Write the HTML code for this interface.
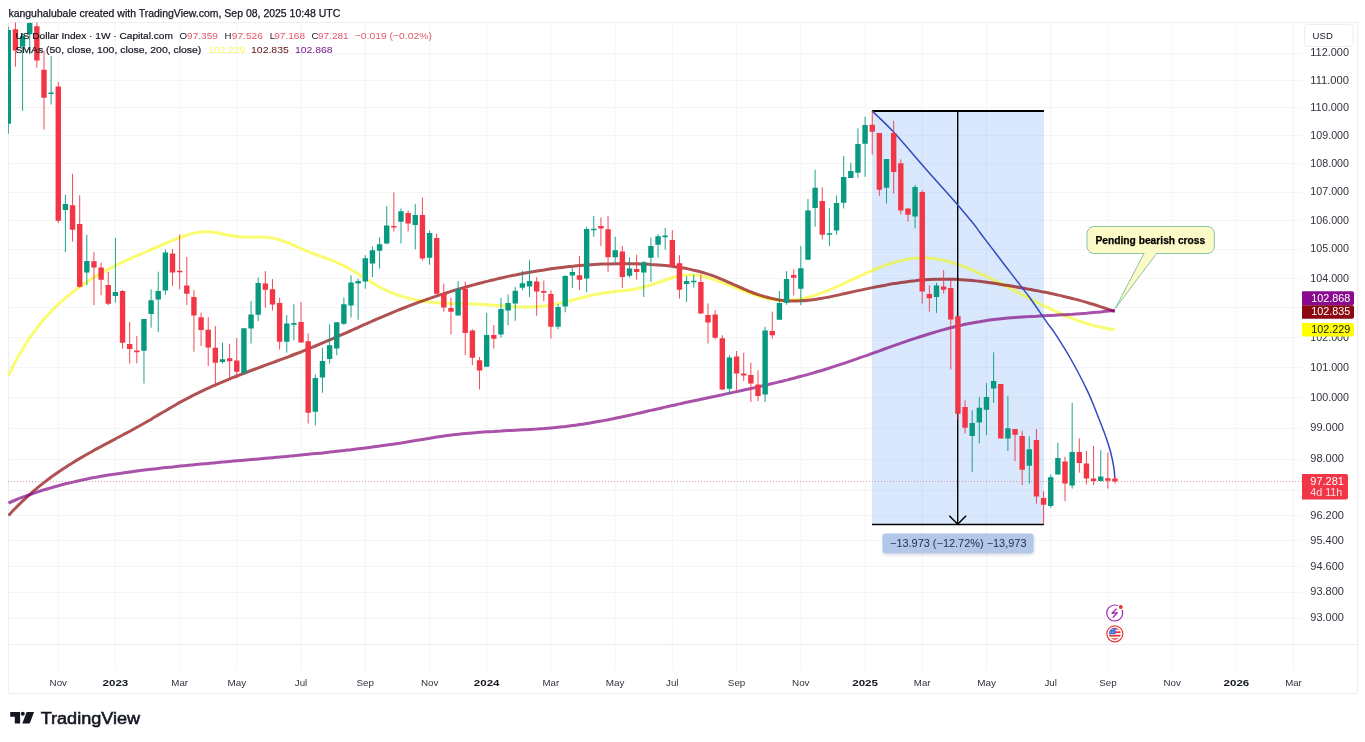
<!DOCTYPE html>
<html><head><meta charset="utf-8"><title>US Dollar Index chart</title>
<style>html,body{margin:0;padding:0;background:#fff}svg{display:block}</style></head>
<body>
<svg width="1365" height="742" viewBox="0 0 1365 742" font-family="'Liberation Sans', sans-serif">
<rect width="1365" height="742" fill="#fff"/>
<defs><clipPath id="pane"><rect x="8" y="22" width="1294" height="671"/></clipPath></defs>
<path d="M8 53.5H1302M8 80.5H1302M8 107.5H1302M8 135.5H1302M8 163.5H1302M8 192.5H1302M8 220.5H1302M8 249.5H1302M8 278.5H1302M8 307.5H1302M8 337.5H1302M8 367.5H1302M8 397.5H1302M8 428.5H1302M8 459.5H1302M8 490.5H1302M8 515.5H1302M8 540.5H1302M8 566.5H1302M8 592.5H1302M8 618.5H1302M8 644.5H1302M58.3 22V670M115.4 22V670M179.7 22V670M236.8 22V670M301.0 22V670M365.3 22V670M429.6 22V670M486.7 22V670M550.9 22V670M615.2 22V670M672.3 22V670M736.6 22V670M800.8 22V670M865.1 22V670M922.2 22V670M986.5 22V670M1050.7 22V670M1107.9 22V670M1172.1 22V670M1236.4 22V670M1293.5 22V670" stroke="#f4f5f7" stroke-width="1" fill="none"/>
<path d="M8.5 22.5H1357.5V693.5H8.5ZM8 644.5H1357" stroke="#eceef1" stroke-width="1" fill="none"/>
<rect x="872" y="111" width="172" height="413.5" fill="#418cf0" fill-opacity="0.2"/>
<g clip-path="url(#pane)" fill="none" stroke-width="3" stroke-linejoin="round" stroke-linecap="butt" stroke-opacity="0.68">
<path d="M8.5 375.5C9.7 373.2 13.3 365.8 15.6 361.4C18.0 356.9 20.4 352.8 22.8 348.8C25.2 344.9 27.5 341.2 29.9 337.7C32.3 334.2 34.7 330.9 37.1 327.9C39.4 324.8 41.8 321.9 44.2 319.1C46.6 316.3 49.0 313.8 51.3 311.3C53.7 308.8 56.1 306.5 58.5 304.3C60.9 302.1 63.2 299.9 65.6 297.9C68.0 295.9 70.4 293.9 72.8 292.1C75.1 290.2 77.5 288.4 79.9 286.7C82.3 285.0 84.7 283.4 87.0 281.8C89.4 280.2 91.8 278.7 94.2 277.3C96.6 275.8 98.9 274.4 101.3 273.1C103.7 271.8 106.1 270.5 108.5 269.2C110.8 268.0 113.2 266.8 115.6 265.6C118.0 264.4 120.4 263.3 122.7 262.2C125.1 261.0 127.5 259.9 129.9 258.9C132.3 257.8 134.6 256.7 137.0 255.7C139.4 254.6 141.8 253.6 144.2 252.6C146.5 251.6 148.9 250.5 151.3 249.5C153.7 248.5 156.1 247.5 158.4 246.5C160.8 245.5 163.2 244.4 165.6 243.4C168.0 242.4 170.3 241.3 172.7 240.4C175.1 239.4 177.5 238.4 179.9 237.5C182.2 236.6 184.6 235.8 187.0 235.0C189.4 234.3 191.8 233.6 194.1 233.1C196.5 232.6 198.9 232.2 201.3 232.0C203.7 231.8 206.0 231.7 208.4 231.8C210.8 231.9 213.2 232.3 215.6 232.6C217.9 233.0 220.3 233.5 222.7 234.0C225.1 234.5 227.5 235.0 229.8 235.5C232.2 235.9 234.6 236.4 237.0 236.6C239.4 236.9 241.7 237.1 244.1 237.1C246.5 237.2 248.9 237.2 251.3 237.2C253.6 237.2 256.0 237.1 258.4 237.1C260.8 237.1 263.2 237.2 265.5 237.3C267.9 237.5 270.3 237.7 272.7 238.1C275.1 238.6 277.4 239.2 279.8 239.9C282.2 240.6 284.6 241.5 287.0 242.4C289.3 243.3 291.7 244.3 294.1 245.4C296.5 246.4 298.9 247.5 301.2 248.6C303.6 249.6 306.0 250.7 308.4 251.7C310.8 252.7 313.1 253.6 315.5 254.5C317.9 255.4 320.3 256.3 322.7 257.1C325.0 258.0 327.4 258.8 329.8 259.7C332.2 260.6 334.6 261.5 336.9 262.6C339.3 263.6 341.7 264.7 344.1 265.9C346.5 267.1 348.8 268.4 351.2 269.8C353.6 271.2 356.0 272.7 358.4 274.1C360.7 275.6 363.1 277.1 365.5 278.6C367.9 280.1 370.3 281.6 372.6 283.0C375.0 284.4 377.4 285.8 379.8 287.1C382.2 288.3 384.5 289.5 386.9 290.6C389.3 291.7 391.7 292.7 394.1 293.6C396.4 294.6 398.8 295.4 401.2 296.2C403.6 297.0 406.0 297.7 408.3 298.3C410.7 298.9 413.1 299.4 415.5 299.9C417.9 300.4 420.2 300.8 422.6 301.2C425.0 301.5 427.4 301.8 429.8 302.1C432.1 302.3 434.5 302.5 436.9 302.7C439.3 302.9 441.7 303.0 444.0 303.1C446.4 303.2 448.8 303.3 451.2 303.4C453.6 303.4 455.9 303.5 458.3 303.6C460.7 303.6 463.1 303.7 465.5 303.7C467.8 303.8 470.2 303.9 472.6 303.9C475.0 304.0 477.4 304.1 479.7 304.3C482.1 304.4 484.5 304.6 486.9 304.7C489.3 304.9 491.6 305.1 494.0 305.3C496.4 305.4 498.8 305.6 501.2 305.8C503.5 306.0 505.9 306.2 508.3 306.3C510.7 306.5 513.1 306.6 515.4 306.7C517.8 306.8 520.2 306.9 522.6 306.9C525.0 307.0 527.3 307.0 529.7 306.9C532.1 306.9 534.5 306.8 536.9 306.6C539.2 306.5 541.6 306.3 544.0 306.0C546.4 305.7 548.8 305.3 551.1 304.9C553.5 304.5 555.9 304.1 558.3 303.6C560.7 303.1 563.0 302.5 565.4 301.9C567.8 301.4 570.2 300.7 572.6 300.1C574.9 299.5 577.3 298.9 579.7 298.3C582.1 297.7 584.5 297.1 586.8 296.5C589.2 295.9 591.6 295.3 594.0 294.8C596.4 294.3 598.7 293.8 601.1 293.4C603.5 293.0 605.9 292.7 608.3 292.3C610.6 292.0 613.0 291.8 615.4 291.5C617.8 291.3 620.2 291.1 622.5 290.8C624.9 290.5 627.3 290.3 629.7 289.9C632.1 289.6 634.4 289.2 636.8 288.7C639.2 288.2 641.6 287.7 644.0 287.0C646.3 286.4 648.7 285.7 651.1 284.9C653.5 284.1 655.9 283.3 658.2 282.5C660.6 281.7 663.0 280.8 665.4 280.0C667.8 279.2 670.1 278.4 672.5 277.7C674.9 277.0 677.3 276.4 679.7 275.9C682.0 275.5 684.4 275.1 686.8 275.0C689.2 274.8 691.6 274.9 693.9 275.1C696.3 275.2 698.7 275.6 701.1 276.1C703.5 276.5 705.8 277.1 708.2 277.8C710.6 278.5 713.0 279.3 715.4 280.1C717.7 280.9 720.1 281.7 722.5 282.6C724.9 283.5 727.3 284.5 729.6 285.4C732.0 286.3 734.4 287.3 736.8 288.2C739.2 289.2 741.5 290.1 743.9 291.0C746.3 291.9 748.7 292.8 751.1 293.7C753.4 294.5 755.8 295.3 758.2 296.1C760.6 296.8 763.0 297.5 765.3 298.1C767.7 298.6 770.1 299.2 772.5 299.6C774.9 300.0 777.2 300.3 779.6 300.4C782.0 300.6 784.4 300.6 786.8 300.6C789.1 300.5 791.5 300.3 793.9 300.1C796.3 299.8 798.7 299.4 801.0 298.9C803.4 298.5 805.8 297.9 808.2 297.3C810.6 296.6 812.9 295.9 815.3 295.1C817.7 294.4 820.1 293.5 822.5 292.6C824.8 291.7 827.2 290.8 829.6 289.8C832.0 288.8 834.4 287.8 836.7 286.7C839.1 285.7 841.5 284.6 843.9 283.5C846.3 282.4 848.6 281.3 851.0 280.2C853.4 279.1 855.8 278.0 858.2 276.9C860.5 275.8 862.9 274.7 865.3 273.6C867.7 272.5 870.1 271.5 872.4 270.5C874.8 269.5 877.2 268.5 879.6 267.5C882.0 266.6 884.3 265.7 886.7 264.9C889.1 264.0 891.5 263.2 893.9 262.5C896.2 261.8 898.6 261.2 901.0 260.6C903.4 260.1 905.8 259.6 908.1 259.2C910.5 258.8 912.9 258.5 915.3 258.3C917.7 258.1 920.0 258.0 922.4 258.0C924.8 258.0 927.2 258.1 929.6 258.3C931.9 258.5 934.3 258.8 936.7 259.1C939.1 259.5 941.5 259.9 943.8 260.5C946.2 261.0 948.6 261.6 951.0 262.3C953.4 263.0 955.7 263.7 958.1 264.6C960.5 265.4 962.9 266.3 965.3 267.2C967.6 268.1 970.0 269.1 972.4 270.1C974.8 271.1 977.2 272.2 979.5 273.3C981.9 274.4 984.3 275.5 986.7 276.6C989.1 277.8 991.4 278.9 993.8 280.1C996.2 281.3 998.6 282.5 1001.0 283.7C1003.3 284.9 1005.7 286.1 1008.1 287.3C1010.5 288.6 1012.9 289.8 1015.2 291.1C1017.6 292.3 1020.0 293.5 1022.4 294.8C1024.8 296.0 1027.1 297.2 1029.5 298.5C1031.9 299.7 1034.3 300.9 1036.7 302.1C1039.0 303.3 1041.4 304.5 1043.8 305.7C1046.2 306.8 1048.6 308.0 1050.9 309.1C1053.3 310.2 1055.7 311.3 1058.1 312.4C1060.5 313.5 1062.8 314.5 1065.2 315.5C1067.6 316.5 1070.0 317.5 1072.4 318.4C1074.7 319.3 1077.1 320.2 1079.5 321.1C1081.9 321.9 1084.3 322.7 1086.6 323.5C1089.0 324.2 1091.4 324.9 1093.8 325.6C1096.2 326.2 1098.5 326.8 1100.9 327.3C1103.3 327.8 1105.7 328.3 1108.1 328.7C1110.4 329.1 1113.7 329.5 1114.8 329.6" stroke="#f6f900" stroke-opacity="0.56"/>
<path d="M8.5 515.6C9.7 514.3 13.3 510.4 15.6 508.0C18.0 505.6 20.4 503.2 22.8 500.9C25.2 498.7 27.5 496.5 29.9 494.3C32.3 492.2 34.7 490.2 37.1 488.2C39.4 486.2 41.8 484.3 44.2 482.4C46.6 480.6 49.0 478.8 51.3 477.0C53.7 475.3 56.1 473.6 58.5 472.0C60.9 470.3 63.2 468.7 65.6 467.2C68.0 465.6 70.4 464.1 72.8 462.7C75.1 461.2 77.5 459.8 79.9 458.4C82.3 457.0 84.7 455.6 87.0 454.2C89.4 452.9 91.8 451.6 94.2 450.2C96.6 448.9 98.9 447.6 101.3 446.4C103.7 445.1 106.1 443.8 108.5 442.6C110.8 441.3 113.2 440.0 115.6 438.8C118.0 437.5 120.4 436.3 122.7 435.0C125.1 433.7 127.5 432.5 129.9 431.2C132.3 429.9 134.6 428.6 137.0 427.3C139.4 426.0 141.8 424.7 144.2 423.3C146.5 421.9 148.9 420.6 151.3 419.2C153.7 417.8 156.1 416.3 158.4 414.9C160.8 413.5 163.2 412.1 165.6 410.7C168.0 409.3 170.3 407.9 172.7 406.5C175.1 405.1 177.5 403.8 179.9 402.4C182.2 401.1 184.6 399.8 187.0 398.6C189.4 397.3 191.8 396.1 194.1 394.9C196.5 393.7 198.9 392.5 201.3 391.4C203.7 390.3 206.0 389.1 208.4 388.1C210.8 387.0 213.2 385.9 215.6 384.9C217.9 383.8 220.3 382.8 222.7 381.8C225.1 380.8 227.5 379.8 229.8 378.9C232.2 377.9 234.6 377.0 237.0 376.0C239.4 375.1 241.7 374.2 244.1 373.3C246.5 372.3 248.9 371.4 251.3 370.5C253.6 369.6 256.0 368.8 258.4 367.9C260.8 367.0 263.2 366.1 265.5 365.2C267.9 364.3 270.3 363.5 272.7 362.6C275.1 361.7 277.4 360.8 279.8 359.9C282.2 359.0 284.6 358.2 287.0 357.3C289.3 356.4 291.7 355.5 294.1 354.5C296.5 353.6 298.9 352.7 301.2 351.8C303.6 350.8 306.0 349.9 308.4 348.9C310.8 347.9 313.1 347.0 315.5 346.0C317.9 345.0 320.3 344.0 322.7 342.9C325.0 341.9 327.4 340.9 329.8 339.9C332.2 338.9 334.6 337.8 336.9 336.8C339.3 335.7 341.7 334.7 344.1 333.6C346.5 332.6 348.8 331.5 351.2 330.5C353.6 329.4 356.0 328.4 358.4 327.3C360.7 326.3 363.1 325.2 365.5 324.2C367.9 323.1 370.3 322.1 372.6 321.0C375.0 320.0 377.4 319.0 379.8 317.9C382.2 316.9 384.5 315.9 386.9 314.9C389.3 313.9 391.7 312.9 394.1 311.9C396.4 310.9 398.8 310.0 401.2 309.0C403.6 308.1 406.0 307.1 408.3 306.2C410.7 305.3 413.1 304.4 415.5 303.5C417.9 302.6 420.2 301.7 422.6 300.8C425.0 300.0 427.4 299.1 429.8 298.3C432.1 297.5 434.5 296.7 436.9 295.9C439.3 295.1 441.7 294.3 444.0 293.6C446.4 292.8 448.8 292.1 451.2 291.3C453.6 290.6 455.9 289.9 458.3 289.2C460.7 288.5 463.1 287.8 465.5 287.1C467.8 286.4 470.2 285.8 472.6 285.1C475.0 284.5 477.4 283.9 479.7 283.2C482.1 282.6 484.5 282.0 486.9 281.4C489.3 280.8 491.6 280.2 494.0 279.7C496.4 279.1 498.8 278.6 501.2 278.0C503.5 277.5 505.9 277.0 508.3 276.4C510.7 275.9 513.1 275.4 515.4 275.0C517.8 274.5 520.2 274.0 522.6 273.5C525.0 273.1 527.3 272.7 529.7 272.2C532.1 271.8 534.5 271.4 536.9 271.0C539.2 270.6 541.6 270.2 544.0 269.9C546.4 269.5 548.8 269.1 551.1 268.8C553.5 268.5 555.9 268.2 558.3 267.8C560.7 267.5 563.0 267.3 565.4 267.0C567.8 266.7 570.2 266.5 572.6 266.2C574.9 266.0 577.3 265.8 579.7 265.5C582.1 265.3 584.5 265.1 586.8 265.0C589.2 264.8 591.6 264.6 594.0 264.5C596.4 264.4 598.7 264.2 601.1 264.1C603.5 264.0 605.9 263.9 608.3 263.9C610.6 263.8 613.0 263.7 615.4 263.7C617.8 263.7 620.2 263.6 622.5 263.6C624.9 263.6 627.3 263.7 629.7 263.7C632.1 263.7 634.4 263.8 636.8 263.8C639.2 263.9 641.6 264.0 644.0 264.1C646.3 264.2 648.7 264.3 651.1 264.5C653.5 264.6 655.9 264.8 658.2 265.0C660.6 265.2 663.0 265.4 665.4 265.6C667.8 265.8 670.1 266.1 672.5 266.4C674.9 266.7 677.3 267.0 679.7 267.4C682.0 267.8 684.4 268.2 686.8 268.6C689.2 269.1 691.6 269.6 693.9 270.2C696.3 270.7 698.7 271.3 701.1 272.0C703.5 272.6 705.8 273.4 708.2 274.1C710.6 274.9 713.0 275.8 715.4 276.7C717.7 277.6 720.1 278.6 722.5 279.6C724.9 280.6 727.3 281.7 729.6 282.7C732.0 283.8 734.4 284.9 736.8 285.9C739.2 287.0 741.5 288.0 743.9 289.0C746.3 290.1 748.7 291.0 751.1 292.0C753.4 292.9 755.8 293.8 758.2 294.6C760.6 295.4 763.0 296.1 765.3 296.8C767.7 297.5 770.1 298.1 772.5 298.6C774.9 299.1 777.2 299.6 779.6 299.9C782.0 300.3 784.4 300.5 786.8 300.7C789.1 300.9 791.5 301.0 793.9 301.0C796.3 301.0 798.7 300.9 801.0 300.8C803.4 300.7 805.8 300.5 808.2 300.2C810.6 300.0 812.9 299.7 815.3 299.4C817.7 299.0 820.1 298.6 822.5 298.2C824.8 297.8 827.2 297.3 829.6 296.9C832.0 296.4 834.4 295.9 836.7 295.4C839.1 294.9 841.5 294.3 843.9 293.8C846.3 293.3 848.6 292.7 851.0 292.2C853.4 291.7 855.8 291.1 858.2 290.6C860.5 290.1 862.9 289.6 865.3 289.1C867.7 288.6 870.1 288.1 872.4 287.6C874.8 287.1 877.2 286.6 879.6 286.2C882.0 285.7 884.3 285.3 886.7 284.9C889.1 284.4 891.5 284.0 893.9 283.6C896.2 283.3 898.6 282.9 901.0 282.6C903.4 282.2 905.8 281.9 908.1 281.6C910.5 281.3 912.9 281.0 915.3 280.8C917.7 280.5 920.0 280.3 922.4 280.1C924.8 279.9 927.2 279.8 929.6 279.6C931.9 279.5 934.3 279.4 936.7 279.3C939.1 279.2 941.5 279.2 943.8 279.2C946.2 279.2 948.6 279.2 951.0 279.2C953.4 279.3 955.7 279.4 958.1 279.5C960.5 279.6 962.9 279.8 965.3 279.9C967.6 280.1 970.0 280.3 972.4 280.5C974.8 280.8 977.2 281.0 979.5 281.3C981.9 281.6 984.3 281.9 986.7 282.2C989.1 282.5 991.4 282.9 993.8 283.2C996.2 283.6 998.6 284.0 1001.0 284.4C1003.3 284.7 1005.7 285.1 1008.1 285.5C1010.5 285.9 1012.9 286.3 1015.2 286.7C1017.6 287.2 1020.0 287.6 1022.4 288.0C1024.8 288.4 1027.1 288.9 1029.5 289.3C1031.9 289.7 1034.3 290.2 1036.7 290.6C1039.0 291.1 1041.4 291.6 1043.8 292.1C1046.2 292.5 1048.6 293.0 1050.9 293.5C1053.3 294.0 1055.7 294.6 1058.1 295.1C1060.5 295.6 1062.8 296.2 1065.2 296.8C1067.6 297.3 1070.0 297.9 1072.4 298.5C1074.7 299.1 1077.1 299.7 1079.5 300.4C1081.9 301.0 1084.3 301.7 1086.6 302.4C1089.0 303.1 1091.4 303.8 1093.8 304.5C1096.2 305.2 1098.5 306.0 1100.9 306.8C1103.3 307.6 1105.7 308.4 1108.1 309.2C1110.4 310.0 1113.7 311.2 1114.8 311.6" stroke="#8b0000"/>
<path d="M8.5 503.0C9.7 502.5 13.3 501.0 15.6 500.0C18.0 499.0 20.4 498.1 22.8 497.2C25.2 496.3 27.5 495.4 29.9 494.6C32.3 493.7 34.7 492.9 37.1 492.1C39.4 491.3 41.8 490.5 44.2 489.8C46.6 489.1 49.0 488.4 51.3 487.7C53.7 487.0 56.1 486.3 58.5 485.7C60.9 485.0 63.2 484.4 65.6 483.8C68.0 483.2 70.4 482.6 72.8 482.1C75.1 481.5 77.5 481.0 79.9 480.5C82.3 480.0 84.7 479.5 87.0 479.0C89.4 478.5 91.8 478.0 94.2 477.6C96.6 477.1 98.9 476.7 101.3 476.3C103.7 475.9 106.1 475.5 108.5 475.1C110.8 474.7 113.2 474.3 115.6 474.0C118.0 473.6 120.4 473.2 122.7 472.9C125.1 472.6 127.5 472.2 129.9 471.9C132.3 471.6 134.6 471.3 137.0 471.0C139.4 470.7 141.8 470.4 144.2 470.1C146.5 469.8 148.9 469.5 151.3 469.2C153.7 469.0 156.1 468.7 158.4 468.4C160.8 468.2 163.2 467.9 165.6 467.6C168.0 467.4 170.3 467.1 172.7 466.9C175.1 466.6 177.5 466.4 179.9 466.1C182.2 465.9 184.6 465.7 187.0 465.4C189.4 465.2 191.8 464.9 194.1 464.7C196.5 464.5 198.9 464.3 201.3 464.0C203.7 463.8 206.0 463.6 208.4 463.4C210.8 463.2 213.2 462.9 215.6 462.7C217.9 462.5 220.3 462.3 222.7 462.1C225.1 461.9 227.5 461.7 229.8 461.4C232.2 461.2 234.6 461.0 237.0 460.8C239.4 460.6 241.7 460.4 244.1 460.2C246.5 460.0 248.9 459.8 251.3 459.6C253.6 459.4 256.0 459.1 258.4 458.9C260.8 458.7 263.2 458.5 265.5 458.3C267.9 458.1 270.3 457.9 272.7 457.7C275.1 457.5 277.4 457.2 279.8 457.0C282.2 456.8 284.6 456.6 287.0 456.4C289.3 456.2 291.7 455.9 294.1 455.7C296.5 455.5 298.9 455.3 301.2 455.0C303.6 454.8 306.0 454.6 308.4 454.3C310.8 454.1 313.1 453.9 315.5 453.6C317.9 453.4 320.3 453.1 322.7 452.9C325.0 452.6 327.4 452.4 329.8 452.1C332.2 451.9 334.6 451.6 336.9 451.3C339.3 451.1 341.7 450.8 344.1 450.5C346.5 450.2 348.8 450.0 351.2 449.7C353.6 449.4 356.0 449.1 358.4 448.8C360.7 448.5 363.1 448.2 365.5 447.9C367.9 447.6 370.3 447.3 372.6 447.0C375.0 446.7 377.4 446.3 379.8 446.0C382.2 445.7 384.5 445.3 386.9 445.0C389.3 444.7 391.7 444.3 394.1 444.0C396.4 443.6 398.8 443.2 401.2 442.9C403.6 442.5 406.0 442.1 408.3 441.7C410.7 441.4 413.1 441.0 415.5 440.6C417.9 440.2 420.2 439.8 422.6 439.4C425.0 439.0 427.4 438.6 429.8 438.3C432.1 437.9 434.5 437.5 436.9 437.1C439.3 436.8 441.7 436.4 444.0 436.1C446.4 435.8 448.8 435.4 451.2 435.1C453.6 434.8 455.9 434.5 458.3 434.3C460.7 434.0 463.1 433.7 465.5 433.5C467.8 433.3 470.2 433.1 472.6 432.9C475.0 432.7 477.4 432.5 479.7 432.3C482.1 432.1 484.5 432.0 486.9 431.8C489.3 431.6 491.6 431.5 494.0 431.4C496.4 431.2 498.8 431.1 501.2 431.0C503.5 430.8 505.9 430.7 508.3 430.6C510.7 430.5 513.1 430.3 515.4 430.2C517.8 430.1 520.2 430.0 522.6 429.8C525.0 429.7 527.3 429.6 529.7 429.4C532.1 429.3 534.5 429.1 536.9 429.0C539.2 428.8 541.6 428.6 544.0 428.5C546.4 428.3 548.8 428.1 551.1 427.9C553.5 427.7 555.9 427.5 558.3 427.2C560.7 427.0 563.0 426.7 565.4 426.5C567.8 426.2 570.2 425.9 572.6 425.6C574.9 425.3 577.3 425.0 579.7 424.6C582.1 424.3 584.5 423.9 586.8 423.5C589.2 423.1 591.6 422.7 594.0 422.3C596.4 421.9 598.7 421.5 601.1 421.0C603.5 420.6 605.9 420.1 608.3 419.7C610.6 419.2 613.0 418.7 615.4 418.2C617.8 417.7 620.2 417.3 622.5 416.7C624.9 416.2 627.3 415.7 629.7 415.2C632.1 414.7 634.4 414.2 636.8 413.6C639.2 413.1 641.6 412.6 644.0 412.0C646.3 411.5 648.7 410.9 651.1 410.4C653.5 409.9 655.9 409.3 658.2 408.8C660.6 408.2 663.0 407.7 665.4 407.1C667.8 406.6 670.1 406.0 672.5 405.5C674.9 405.0 677.3 404.4 679.7 403.9C682.0 403.4 684.4 402.8 686.8 402.3C689.2 401.8 691.6 401.3 693.9 400.8C696.3 400.2 698.7 399.7 701.1 399.2C703.5 398.7 705.8 398.2 708.2 397.7C710.6 397.2 713.0 396.7 715.4 396.2C717.7 395.7 720.1 395.2 722.5 394.7C724.9 394.1 727.3 393.6 729.6 393.1C732.0 392.6 734.4 392.1 736.8 391.6C739.2 391.1 741.5 390.6 743.9 390.0C746.3 389.5 748.7 389.0 751.1 388.5C753.4 387.9 755.8 387.4 758.2 386.9C760.6 386.3 763.0 385.8 765.3 385.2C767.7 384.7 770.1 384.1 772.5 383.5C774.9 383.0 777.2 382.4 779.6 381.8C782.0 381.2 784.4 380.7 786.8 380.1C789.1 379.4 791.5 378.8 793.9 378.2C796.3 377.6 798.7 377.0 801.0 376.3C803.4 375.7 805.8 375.0 808.2 374.4C810.6 373.7 812.9 373.0 815.3 372.3C817.7 371.6 820.1 370.9 822.5 370.2C824.8 369.5 827.2 368.8 829.6 368.0C832.0 367.3 834.4 366.5 836.7 365.7C839.1 364.9 841.5 364.1 843.9 363.3C846.3 362.5 848.6 361.7 851.0 360.9C853.4 360.1 855.8 359.2 858.2 358.4C860.5 357.6 862.9 356.7 865.3 355.9C867.7 355.0 870.1 354.2 872.4 353.3C874.8 352.5 877.2 351.6 879.6 350.8C882.0 349.9 884.3 349.1 886.7 348.2C889.1 347.4 891.5 346.5 893.9 345.7C896.2 344.8 898.6 344.0 901.0 343.2C903.4 342.3 905.8 341.5 908.1 340.7C910.5 339.9 912.9 339.1 915.3 338.3C917.7 337.5 920.0 336.7 922.4 336.0C924.8 335.2 927.2 334.4 929.6 333.7C931.9 333.0 934.3 332.3 936.7 331.6C939.1 330.9 941.5 330.2 943.8 329.6C946.2 328.9 948.6 328.3 951.0 327.7C953.4 327.1 955.7 326.5 958.1 325.9C960.5 325.4 962.9 324.8 965.3 324.3C967.6 323.8 970.0 323.3 972.4 322.9C974.8 322.5 977.2 322.0 979.5 321.7C981.9 321.3 984.3 320.9 986.7 320.6C989.1 320.2 991.4 319.9 993.8 319.6C996.2 319.4 998.6 319.1 1001.0 318.8C1003.3 318.6 1005.7 318.4 1008.1 318.1C1010.5 317.9 1012.9 317.7 1015.2 317.5C1017.6 317.4 1020.0 317.2 1022.4 317.0C1024.8 316.9 1027.1 316.7 1029.5 316.6C1031.9 316.4 1034.3 316.3 1036.7 316.2C1039.0 316.0 1041.4 315.9 1043.8 315.8C1046.2 315.7 1048.6 315.5 1050.9 315.4C1053.3 315.3 1055.7 315.2 1058.1 315.0C1060.5 314.9 1062.8 314.8 1065.2 314.7C1067.6 314.5 1070.0 314.4 1072.4 314.3C1074.7 314.1 1077.1 314.0 1079.5 313.8C1081.9 313.6 1084.3 313.4 1086.6 313.3C1089.0 313.1 1091.4 312.9 1093.8 312.6C1096.2 312.4 1098.5 312.2 1100.9 311.9C1103.3 311.7 1105.7 311.4 1108.1 311.1C1110.4 310.8 1113.7 310.3 1114.8 310.2" stroke="#800080"/>
</g>
<path d="M872 111H1044" stroke="#000" stroke-width="2" fill="none"/><path d="M872 524.5H1044" stroke="#000" stroke-width="1.5" fill="none"/>
<path d="M957.7 111V524" stroke="#000" stroke-width="1.4" fill="none"/>
<path d="M949.3 515.8L957.7 524.2L966.1 515.8" stroke="#000" stroke-width="1.5" fill="none"/>
<path d="M872.0 110.9C875.6 114.4 884.2 121.9 893.4 131.8C902.5 141.7 916.1 157.9 926.9 170.2C937.7 182.5 950.4 196.4 958.2 205.4C966.0 214.4 970.0 219.4 973.7 224.0C977.4 228.6 976.4 227.8 980.3 233.0C984.2 238.2 991.5 247.7 997.1 255.0C1002.7 262.3 1008.2 269.6 1013.8 276.9C1019.4 284.2 1024.9 291.0 1030.5 298.7C1036.1 306.4 1043.3 317.4 1047.2 322.9C1051.1 328.4 1049.9 325.8 1053.8 331.7C1057.7 337.6 1064.9 348.7 1070.5 358.5C1076.1 368.3 1083.0 381.7 1087.2 390.3C1091.4 398.9 1092.7 403.0 1095.6 410.3C1098.5 417.6 1102.3 427.1 1104.8 434.0C1107.3 440.9 1109.1 446.2 1110.6 452.0C1112.1 457.8 1113.3 464.1 1114.0 468.5C1114.7 472.9 1114.7 476.8 1114.8 478.5" stroke="#2f4bc0" stroke-width="1.5" fill="none"/>
<g clip-path="url(#pane)">
<path d="M8.30 26.7V133.7M22.58 33.0V110.8M29.72 22.5V54.3M51.14 56.0V104.5M65.42 194.8V252.0M86.84 234.5V285.1M115.40 237.8V302.7M143.96 319.0V383.5M151.10 289.3V327.7M158.24 271.7V332.0M165.38 249.5V294.8M222.50 342.6V363.5M243.92 328.2V375.0M251.06 301.0V343.5M258.20 277.6V321.1M286.76 315.1V352.7M293.90 304.3V340.2M315.32 374.4V425.3M322.46 347.9V392.8M329.60 324.3V363.6M336.74 322.3V355.2M343.88 297.5V325.1M351.02 275.3V317.6M358.16 278.6V319.7M365.30 255.2V288.7M372.44 246.5V277.0M379.58 237.3V268.6M386.72 206.2V244.3M401.00 208.4V243.5M415.28 204.2V249.4M429.56 230.6V264.7M458.12 281.1V315.6M486.68 313.0V366.7M500.96 297.8V337.6M508.10 294.5V325.2M515.24 286.9V320.8M522.38 270.6V290.3M529.52 260.2V297.0M558.08 304.1V329.3M565.22 275.2V312.3M572.36 268.2V287.8M586.64 226.7V292.0M593.78 215.9V236.8M615.20 236.8V262.7M629.48 257.3V277.7M643.76 261.0V297.0M650.90 237.6V281.9M658.04 234.3V257.7M665.18 227.9V249.8M686.60 276.1V302.0M693.74 274.8V287.5M729.44 355.2V394.5M765.14 326.8V402.0M779.42 291.0V319.8M786.56 271.1V304.7M800.84 246.0V305.0M807.98 199.0V259.8M815.12 169.7V226.8M829.40 208.2V246.0M836.54 195.4V234.8M843.68 156.0V208.5M850.82 162.7V178.1M857.96 128.4V177.8M865.10 116.7V176.9M886.52 159.0V203.5M915.08 184.8V228.4M936.50 282.8V312.9M972.20 410.3V471.9M979.34 397.0V443.4M986.48 383.1V435.1M993.62 352.3V402.8M1007.90 395.8V451.0M1029.32 436.4V483.6M1050.74 474.4V507.8M1057.88 442.6V474.4M1072.16 402.8V488.6M1100.72 450.1V481.1" stroke="#089981" stroke-width="1" stroke-opacity="0.9" fill="none"/>
<path d="M15.44 22.5V66.8M36.86 22.5V67.7M44.00 51.0V129.5M58.28 81.9V223.1M72.56 173.9V241.7M79.70 195.2V287.5M93.98 252.0V305.2M101.12 262.5V295.1M108.26 271.7V305.2M122.54 290.0V348.5M129.68 321.9V363.6M136.82 336.1V363.4M172.52 249.0V285.9M179.66 234.5V289.3M186.80 257.0V305.0M193.94 290.1V351.7M201.08 312.7V346.0M208.22 317.2V366.1M215.36 326.1V386.9M229.64 343.9V380.2M236.78 338.0V378.5M265.34 271.0V307.7M272.48 279.1V310.4M279.62 297.7V349.5M301.04 302.0V342.6M308.18 333.4V423.6M393.86 192.5V231.5M408.14 210.4V231.5M422.42 197.5V260.6M436.70 233.5V294.5M443.84 283.6V311.8M450.98 297.7V334.3M465.26 281.5V355.2M472.40 329.3V365.2M479.54 356.9V389.5M493.82 325.0V348.5M536.66 277.2V315.8M543.80 280.6V301.2M550.94 290.3V338.5M579.50 256.0V290.0M600.92 217.5V246.0M608.06 215.9V271.9M622.34 246.0V287.8M636.62 254.8V279.7M672.32 230.1V266.9M679.46 255.2V298.6M700.88 274.5V314.0M708.02 303.4V343.5M715.16 310.1V339.3M722.30 335.2V390.3M736.58 351.0V390.3M743.72 352.7V381.1M750.86 362.7V402.0M758.00 370.3V401.2M772.28 311.7V338.5M793.70 269.5V295.4M822.26 187.2V239.4M872.24 110.9V154.4M879.38 133.1V195.7M893.66 120.9V193.6M900.80 159.4V214.4M907.94 208.4V221.7M922.22 190.3V303.7M929.36 285.3V311.7M943.64 270.2V293.6M950.78 280.3V369.4M957.92 316.2V420.0M965.06 400.3V433.4M1000.76 384.1V438.4M1015.04 429.1V461.0M1022.18 430.7V485.2M1036.46 429.0V503.6M1043.60 491.1V524.5M1065.02 456.8V501.1M1079.30 438.4V472.7M1086.44 451.0V484.4M1093.58 445.9V485.2M1107.86 452.6V488.6M1115.00 477.2V483.6" stroke="#f23645" stroke-width="1" stroke-opacity="0.9" fill="none"/>
<path d="M5.60 30.0h5.4v93.7h-5.4ZM19.88 35.9h5.4v10.9h-5.4ZM27.02 23.0h5.4v11.2h-5.4ZM48.44 92.4h5.4v1.5h-5.4ZM62.72 204.0h5.4v5.9h-5.4ZM84.14 260.9h5.4v11.7h-5.4ZM112.70 292.1h5.4v3.9h-5.4ZM141.26 319.0h5.4v31.8h-5.4ZM148.40 300.2h5.4v13.7h-5.4ZM155.54 291.0h5.4v8.6h-5.4ZM162.68 252.4h5.4v38.2h-5.4ZM219.80 359.2h5.4v2.7h-5.4ZM241.22 328.2h5.4v44.8h-5.4ZM248.36 314.4h5.4v14.2h-5.4ZM255.50 283.1h5.4v31.6h-5.4ZM284.06 323.4h5.4v18.4h-5.4ZM291.20 323.1h5.4v1.7h-5.4ZM312.62 378.1h5.4v33.6h-5.4ZM319.76 360.9h5.4v16.6h-5.4ZM326.90 345.2h5.4v13.7h-5.4ZM334.04 322.3h5.4v26.2h-5.4ZM341.18 304.2h5.4v19.6h-5.4ZM348.32 282.5h5.4v22.9h-5.4ZM355.46 281.1h5.4v2.5h-5.4ZM362.60 258.2h5.4v23.4h-5.4ZM369.74 250.2h5.4v13.4h-5.4ZM376.88 244.3h5.4v6.4h-5.4ZM384.02 225.6h5.4v17.9h-5.4ZM398.30 211.2h5.4v10.6h-5.4ZM412.58 215.1h5.4v10.0h-5.4ZM426.86 233.1h5.4v24.6h-5.4ZM455.42 289.0h5.4v26.6h-5.4ZM483.98 335.1h5.4v31.6h-5.4ZM498.26 309.1h5.4v25.5h-5.4ZM505.40 303.1h5.4v7.5h-5.4ZM512.54 290.8h5.4v12.7h-5.4ZM519.68 283.3h5.4v4.5h-5.4ZM526.82 281.1h5.4v5.3h-5.4ZM555.38 307.1h5.4v19.6h-5.4ZM562.52 276.1h5.4v30.5h-5.4ZM569.66 271.9h5.4v3.7h-5.4ZM583.94 228.9h5.4v49.7h-5.4ZM591.08 228.7h5.4v1.6h-5.4ZM612.50 250.2h5.4v7.1h-5.4ZM626.78 268.5h5.4v7.2h-5.4ZM641.06 262.2h5.4v10.2h-5.4ZM648.20 246.0h5.4v11.7h-5.4ZM655.34 236.3h5.4v8.5h-5.4ZM662.48 235.6h5.4v1.6h-5.4ZM683.90 281.1h5.4v3.0h-5.4ZM691.04 280.7h5.4v1.6h-5.4ZM726.74 357.4h5.4v31.3h-5.4ZM762.44 330.6h5.4v63.9h-5.4ZM776.72 303.0h5.4v16.8h-5.4ZM783.86 279.0h5.4v23.7h-5.4ZM798.14 268.3h5.4v20.4h-5.4ZM805.28 210.5h5.4v49.3h-5.4ZM812.42 187.8h5.4v20.1h-5.4ZM826.70 233.2h5.4v1.5h-5.4ZM833.84 203.1h5.4v27.4h-5.4ZM840.98 176.9h5.4v25.9h-5.4ZM848.12 171.1h5.4v7.0h-5.4ZM855.26 144.0h5.4v28.8h-5.4ZM862.40 125.1h5.4v18.7h-5.4ZM883.82 159.0h5.4v28.7h-5.4ZM912.38 187.0h5.4v29.5h-5.4ZM933.80 285.6h5.4v11.4h-5.4ZM969.50 422.9h5.4v13.0h-5.4ZM976.64 407.8h5.4v14.6h-5.4ZM983.78 397.0h5.4v12.8h-5.4ZM990.92 381.1h5.4v7.5h-5.4ZM1005.20 428.3h5.4v10.1h-5.4ZM1026.62 449.3h5.4v16.4h-5.4ZM1048.04 477.2h5.4v28.9h-5.4ZM1055.18 458.1h5.4v16.3h-5.4ZM1069.46 452.1h5.4v33.5h-5.4ZM1098.02 476.4h5.4v4.7h-5.4Z" fill="#089981"/>
<path d="M12.74 29.2h5.4v21.4h-5.4ZM34.16 26.2h5.4v34.4h-5.4ZM41.30 69.8h5.4v28.0h-5.4ZM55.58 86.4h5.4v134.4h-5.4ZM69.86 205.2h5.4v24.6h-5.4ZM77.00 224.1h5.4v62.7h-5.4ZM91.28 261.2h5.4v6.3h-5.4ZM98.42 267.5h5.4v12.2h-5.4ZM105.56 285.1h5.4v18.7h-5.4ZM119.84 291.0h5.4v51.8h-5.4ZM126.98 344.1h5.4v4.9h-5.4ZM134.12 350.6h5.4v1.6h-5.4ZM169.82 253.4h5.4v19.2h-5.4ZM176.96 270.7h5.4v1.6h-5.4ZM184.10 285.6h5.4v8.2h-5.4ZM191.24 297.1h5.4v18.4h-5.4ZM198.38 317.2h5.4v12.7h-5.4ZM205.52 329.7h5.4v17.8h-5.4ZM212.66 347.8h5.4v14.9h-5.4ZM226.94 358.2h5.4v3.1h-5.4ZM234.08 360.6h5.4v11.2h-5.4ZM262.64 283.5h5.4v6.2h-5.4ZM269.78 289.2h5.4v15.2h-5.4ZM276.92 302.9h5.4v38.9h-5.4ZM298.34 322.1h5.4v20.5h-5.4ZM305.48 341.3h5.4v71.4h-5.4ZM391.16 226.0h5.4v1.6h-5.4ZM405.44 212.9h5.4v10.5h-5.4ZM419.72 215.1h5.4v43.5h-5.4ZM434.00 238.0h5.4v55.7h-5.4ZM441.14 293.7h5.4v13.9h-5.4ZM448.28 308.1h5.4v3.7h-5.4ZM462.56 288.7h5.4v44.4h-5.4ZM469.70 330.6h5.4v27.1h-5.4ZM476.84 360.2h5.4v10.4h-5.4ZM491.12 335.1h5.4v3.7h-5.4ZM533.96 281.4h5.4v10.2h-5.4ZM541.10 291.1h5.4v1.7h-5.4ZM548.24 294.1h5.4v32.6h-5.4ZM576.80 275.2h5.4v4.5h-5.4ZM598.22 225.9h5.4v2.5h-5.4ZM605.36 229.2h5.4v28.1h-5.4ZM619.64 251.5h5.4v25.4h-5.4ZM633.92 269.0h5.4v2.9h-5.4ZM669.62 240.1h5.4v26.4h-5.4ZM676.76 263.2h5.4v26.5h-5.4ZM698.18 282.0h5.4v31.4h-5.4ZM705.32 315.1h5.4v7.5h-5.4ZM712.46 314.6h5.4v23.1h-5.4ZM719.60 338.2h5.4v51.3h-5.4ZM733.88 356.4h5.4v17.2h-5.4ZM741.02 373.6h5.4v2.0h-5.4ZM748.16 375.0h5.4v8.6h-5.4ZM755.30 384.5h5.4v11.4h-5.4ZM769.58 331.0h5.4v4.2h-5.4ZM791.00 275.0h5.4v2.8h-5.4ZM819.56 200.9h5.4v33.9h-5.4ZM869.54 124.8h5.4v7.0h-5.4ZM876.68 133.1h5.4v56.6h-5.4ZM890.96 133.1h5.4v38.8h-5.4ZM898.10 163.2h5.4v47.4h-5.4ZM905.24 208.4h5.4v6.3h-5.4ZM919.52 192.0h5.4v99.6h-5.4ZM926.66 294.1h5.4v4.1h-5.4ZM940.94 286.6h5.4v3.2h-5.4ZM948.08 288.1h5.4v31.3h-5.4ZM955.22 316.2h5.4v97.5h-5.4ZM962.36 407.0h5.4v20.7h-5.4ZM998.06 384.1h5.4v54.3h-5.4ZM1012.34 429.1h5.4v5.6h-5.4ZM1019.48 435.9h5.4v33.8h-5.4ZM1033.76 440.1h5.4v56.5h-5.4ZM1040.90 498.1h5.4v6.7h-5.4ZM1062.32 461.5h5.4v22.1h-5.4ZM1076.60 452.1h5.4v10.9h-5.4ZM1083.74 463.5h5.4v15.0h-5.4ZM1090.88 478.5h5.4v2.6h-5.4ZM1105.16 478.2h5.4v2.5h-5.4ZM1112.30 478.5h5.4v2.9h-5.4Z" fill="#f23645"/>
</g>
<path d="M8 481.5H1302" stroke="#c0606a" stroke-opacity="0.6" stroke-width="1" stroke-dasharray="1 2" fill="none"/>
<defs><filter id="sh" x="-10%" y="-40%" width="120%" height="190%"><feGaussianBlur stdDeviation="1.6"/></filter></defs>
<rect x="883" y="535" width="150.5" height="19.5" rx="3" fill="#5a6f96" fill-opacity="0.35" filter="url(#sh)"/>
<rect x="882.5" y="533.5" width="151" height="19.5" rx="3" fill="#b3c7ea"/>
<text x="890" y="546.8" font-size="10.5" fill="#22304d" textLength="136.5" lengthAdjust="spacingAndGlyphs">−13.973 (−12.72%) −13,973</text>
<path d="M1144 253.5L1115.2 308.5L1156.6 253.5" fill="#fcfac6" stroke="#86c4a6" stroke-width="1" stroke-linejoin="round"/>
<rect x="1087" y="226.5" width="127.4" height="27" rx="7" fill="#fcfac6" stroke="#86c4a6" stroke-width="1"/>
<path d="M1144.6 253.5H1156" stroke="#fcfac6" stroke-width="2"/>
<text x="1095.5" y="243.6" font-size="10.5" font-weight="bold" fill="#000" stroke="#000" stroke-width="0.25" textLength="109.7" lengthAdjust="spacingAndGlyphs">Pending bearish cross</text>
<circle cx="1114.7" cy="613" r="8" fill="#fff" stroke="#9c27b0" stroke-width="1.2"/>
<path d="M1116.6 608.6L1112 613.3L1117.2 612.7L1112.8 617.6" fill="none" stroke="#9c27b0" stroke-width="1.3" stroke-linejoin="round"/>
<circle cx="1120.8" cy="607.1" r="3" fill="#fff"/><circle cx="1120.8" cy="607.1" r="2" fill="#e53935"/>
<circle cx="1114.8" cy="633.8" r="8" fill="#fff" stroke="#e53935" stroke-width="1.2"/>
<clipPath id="fl"><circle cx="1114.8" cy="633.8" r="6"/></clipPath>
<g clip-path="url(#fl)"><rect x="1108" y="627" width="14" height="14" fill="#fff"/>
<rect x="1108" y="627.8" width="14" height="1.8" fill="#e53935"/>
<rect x="1108" y="631.3" width="14" height="1.8" fill="#e53935"/>
<rect x="1108" y="634.8" width="14" height="1.8" fill="#e53935"/>
<rect x="1108" y="638.3" width="14" height="1.8" fill="#e53935"/>
<rect x="1108" y="627" width="7.5" height="7.2" fill="#3f6fd8"/>
<circle cx="1110.6" cy="629.6" r="0.5" fill="#fff"/>
<circle cx="1113.0" cy="629.6" r="0.5" fill="#fff"/>
<circle cx="1110.6" cy="632.0" r="0.5" fill="#fff"/>
<circle cx="1113.0" cy="632.0" r="0.5" fill="#fff"/>
<circle cx="1108.8" cy="632.0" r="0.5" fill="#fff"/>
</g>
<g font-size="10" fill="#2f333d">
<text x="1310.3" y="56.2" textLength="38.7" lengthAdjust="spacingAndGlyphs">112.000</text>
<text x="1310.3" y="83.5" textLength="38.7" lengthAdjust="spacingAndGlyphs">111.000</text>
<text x="1310.3" y="111.0" textLength="38.7" lengthAdjust="spacingAndGlyphs">110.000</text>
<text x="1310.3" y="138.7" textLength="38.7" lengthAdjust="spacingAndGlyphs">109.000</text>
<text x="1310.3" y="166.8" textLength="38.7" lengthAdjust="spacingAndGlyphs">108.000</text>
<text x="1310.3" y="195.0" textLength="38.7" lengthAdjust="spacingAndGlyphs">107.000</text>
<text x="1310.3" y="223.6" textLength="38.7" lengthAdjust="spacingAndGlyphs">106.000</text>
<text x="1310.3" y="252.4" textLength="38.7" lengthAdjust="spacingAndGlyphs">105.000</text>
<text x="1310.3" y="281.5" textLength="38.7" lengthAdjust="spacingAndGlyphs">104.000</text>
<text x="1310.3" y="310.9" textLength="38.7" lengthAdjust="spacingAndGlyphs">103.000</text>
<text x="1310.3" y="340.5" textLength="38.7" lengthAdjust="spacingAndGlyphs">102.000</text>
<text x="1310.3" y="370.5" textLength="38.7" lengthAdjust="spacingAndGlyphs">101.000</text>
<text x="1310.3" y="400.7" textLength="38.7" lengthAdjust="spacingAndGlyphs">100.000</text>
<text x="1310.3" y="431.3" textLength="33.7" lengthAdjust="spacingAndGlyphs">99.000</text>
<text x="1310.3" y="462.1" textLength="33.7" lengthAdjust="spacingAndGlyphs">98.000</text>
<text x="1310.3" y="518.5" textLength="33.7" lengthAdjust="spacingAndGlyphs">96.200</text>
<text x="1310.3" y="543.9" textLength="33.7" lengthAdjust="spacingAndGlyphs">95.400</text>
<text x="1310.3" y="569.5" textLength="33.7" lengthAdjust="spacingAndGlyphs">94.600</text>
<text x="1310.3" y="595.3" textLength="33.7" lengthAdjust="spacingAndGlyphs">93.800</text>
<text x="1310.3" y="621.3" textLength="33.7" lengthAdjust="spacingAndGlyphs">93.000</text>
</g>
<rect x="1304.5" y="24.5" width="48.5" height="22" rx="3" fill="#fff" stroke="#ebedf0" stroke-width="1"/>
<text x="1312.6" y="38.8" font-size="9.6" fill="#131722" textLength="20.2" lengthAdjust="spacingAndGlyphs">USD</text>
<path d="M1302 291.2H1352.0a2 2 0 0 1 2 2V303.2a2 2 0 0 1 -2 2H1302Z" fill="#8a0a8f"/>
<path d="M1302 305.2H1352.0a2 2 0 0 1 2 2V316.8a2 2 0 0 1 -2 2H1302Z" fill="#8b0a12"/>
<path d="M1302 323.1H1352.0a2 2 0 0 1 2 2V334.6a2 2 0 0 1 -2 2H1302Z" fill="#ffff00"/>
<path d="M1302 474H1346a2 2 0 0 1 2 2V497.5a2 2 0 0 1 -2 2H1302Z" fill="#f23645"/>
<g font-size="10">
<text x="1311.3" y="301.5" fill="#fff" textLength="39" lengthAdjust="spacingAndGlyphs">102.868</text>
<text x="1311.3" y="315.3" fill="#fff" textLength="39" lengthAdjust="spacingAndGlyphs">102.835</text>
<text x="1311.3" y="333.2" fill="#131722" textLength="39" lengthAdjust="spacingAndGlyphs">102.229</text>
<text x="1310.3" y="485" fill="#fff" textLength="33.7" lengthAdjust="spacingAndGlyphs">97.281</text>
<text x="1310.3" y="495.6" fill="#fff" fill-opacity="0.85" textLength="32" lengthAdjust="spacingAndGlyphs">4d 11h</text>
</g>
<text x="58.3" y="686" font-size="9.2" fill="#2f333d" text-anchor="middle" textLength="17.4" lengthAdjust="spacingAndGlyphs">Nov</text>
<text x="115.4" y="686" font-size="9.3" font-weight="bold" fill="#131722" text-anchor="middle" textLength="25.7" lengthAdjust="spacingAndGlyphs">2023</text>
<text x="179.7" y="686" font-size="9.2" fill="#2f333d" text-anchor="middle" textLength="16.7" lengthAdjust="spacingAndGlyphs">Mar</text>
<text x="236.8" y="686" font-size="9.2" fill="#2f333d" text-anchor="middle" textLength="18.7" lengthAdjust="spacingAndGlyphs">May</text>
<text x="301.0" y="686" font-size="9.2" fill="#2f333d" text-anchor="middle" textLength="12.5" lengthAdjust="spacingAndGlyphs">Jul</text>
<text x="365.3" y="686" font-size="9.2" fill="#2f333d" text-anchor="middle" textLength="17.5" lengthAdjust="spacingAndGlyphs">Sep</text>
<text x="429.6" y="686" font-size="9.2" fill="#2f333d" text-anchor="middle" textLength="17.4" lengthAdjust="spacingAndGlyphs">Nov</text>
<text x="486.7" y="686" font-size="9.3" font-weight="bold" fill="#131722" text-anchor="middle" textLength="25.7" lengthAdjust="spacingAndGlyphs">2024</text>
<text x="550.9" y="686" font-size="9.2" fill="#2f333d" text-anchor="middle" textLength="16.7" lengthAdjust="spacingAndGlyphs">Mar</text>
<text x="615.2" y="686" font-size="9.2" fill="#2f333d" text-anchor="middle" textLength="18.7" lengthAdjust="spacingAndGlyphs">May</text>
<text x="672.3" y="686" font-size="9.2" fill="#2f333d" text-anchor="middle" textLength="12.5" lengthAdjust="spacingAndGlyphs">Jul</text>
<text x="736.6" y="686" font-size="9.2" fill="#2f333d" text-anchor="middle" textLength="17.5" lengthAdjust="spacingAndGlyphs">Sep</text>
<text x="800.8" y="686" font-size="9.2" fill="#2f333d" text-anchor="middle" textLength="17.4" lengthAdjust="spacingAndGlyphs">Nov</text>
<text x="865.1" y="686" font-size="9.3" font-weight="bold" fill="#131722" text-anchor="middle" textLength="25.7" lengthAdjust="spacingAndGlyphs">2025</text>
<text x="922.2" y="686" font-size="9.2" fill="#2f333d" text-anchor="middle" textLength="16.7" lengthAdjust="spacingAndGlyphs">Mar</text>
<text x="986.5" y="686" font-size="9.2" fill="#2f333d" text-anchor="middle" textLength="18.7" lengthAdjust="spacingAndGlyphs">May</text>
<text x="1050.7" y="686" font-size="9.2" fill="#2f333d" text-anchor="middle" textLength="12.5" lengthAdjust="spacingAndGlyphs">Jul</text>
<text x="1107.9" y="686" font-size="9.2" fill="#2f333d" text-anchor="middle" textLength="17.5" lengthAdjust="spacingAndGlyphs">Sep</text>
<text x="1172.1" y="686" font-size="9.2" fill="#2f333d" text-anchor="middle" textLength="17.4" lengthAdjust="spacingAndGlyphs">Nov</text>
<text x="1236.4" y="686" font-size="9.3" font-weight="bold" fill="#131722" text-anchor="middle" textLength="25.7" lengthAdjust="spacingAndGlyphs">2026</text>
<text x="1293.5" y="686" font-size="9.2" fill="#2f333d" text-anchor="middle" textLength="16.7" lengthAdjust="spacingAndGlyphs">Mar</text>
<text x="8.4" y="16.7" font-size="10.6" fill="#131722" stroke="#131722" stroke-width="0.25" textLength="331.9" lengthAdjust="spacingAndGlyphs">kanguhalubale created with TradingView.com, Sep 08, 2025 10:48 UTC</text>
<g font-size="9.7" fill="#131722">
<text x="15.4" y="38.6" stroke="#131722" stroke-width="0.2" textLength="157.5" lengthAdjust="spacingAndGlyphs">US Dollar Index · 1W · Capital.com</text>
<text x="179.6" y="38.6" fill="#131722" fill-opacity="1" textLength="7.6" lengthAdjust="spacingAndGlyphs">O</text>
<text x="187.0" y="38.6" fill="#dc4358" fill-opacity="0.88" textLength="31.0" lengthAdjust="spacingAndGlyphs">97.359</text>
<text x="224.6" y="38.6" fill="#131722" fill-opacity="1" textLength="7.0" lengthAdjust="spacingAndGlyphs">H</text>
<text x="231.8" y="38.6" fill="#dc4358" fill-opacity="0.88" textLength="31.0" lengthAdjust="spacingAndGlyphs">97.526</text>
<text x="269.8" y="38.6" fill="#131722" fill-opacity="1" textLength="5.2" lengthAdjust="spacingAndGlyphs">L</text>
<text x="274.2" y="38.6" fill="#dc4358" fill-opacity="0.88" textLength="30.9" lengthAdjust="spacingAndGlyphs">97.168</text>
<text x="311.6" y="38.6" fill="#131722" fill-opacity="1" textLength="7.0" lengthAdjust="spacingAndGlyphs">C</text>
<text x="318.0" y="38.6" fill="#dc4358" fill-opacity="0.88" textLength="30.6" lengthAdjust="spacingAndGlyphs">97.281</text>
<text x="354.7" y="38.6" fill="#dc4358" fill-opacity="0.88" textLength="77.3" lengthAdjust="spacingAndGlyphs">−0.019 (−0.02%)</text>
<text x="15.4" y="52.7" stroke="#131722" stroke-width="0.2" textLength="185.9" lengthAdjust="spacingAndGlyphs">SMAs (50, close, 100, close, 200, close)</text>
<text x="208.4" y="52.7" fill="#f4f400" fill-opacity="0.6" textLength="37.0" lengthAdjust="spacingAndGlyphs">102.229</text>
<text x="251.0" y="52.7" fill="#5d0f12" fill-opacity="1" textLength="37.8" lengthAdjust="spacingAndGlyphs">102.835</text>
<text x="294.9" y="52.7" fill="#7a1a8a" fill-opacity="1" textLength="37.8" lengthAdjust="spacingAndGlyphs">102.868</text>
</g>
<path d="M10.2 711.9H20.1V723.6H14.8V716.7H10.2Z" fill="#131722"/>
<circle cx="22.8" cy="713.8" r="2" fill="#131722"/>
<path d="M26.6 711.9H34.1L29.7 723.6H22.3Z" fill="#131722"/>
<text x="40.7" y="723.6" font-size="16" fill="#131722" stroke="#131722" stroke-width="0.55" textLength="99.4" lengthAdjust="spacingAndGlyphs">TradingView</text>
</svg>
</body></html>
